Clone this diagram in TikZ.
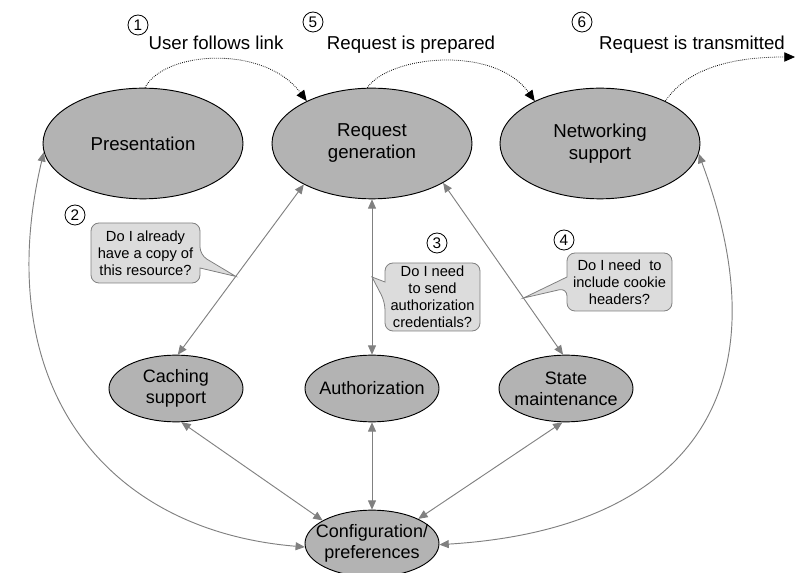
\documentclass[tikz,border=0pt]{standalone}
\usepackage{fontspec}
\setmainfont{Liberation Sans}
\usetikzlibrary{arrows.meta,shapes.geometric}
\definecolor{stagefill}{HTML}{B3B3B3}
\definecolor{notefill}{HTML}{DCDCDC}
\definecolor{linkgray}{HTML}{808080}
\begin{document}
\begin{tikzpicture}[x=0.75pt,y=-0.75pt,
  bigstage/.style={ellipse, draw=black, line width=0.7pt, fill=stagefill,
    minimum width=150pt, minimum height=83pt, inner sep=0pt, align=center,
    font=\fontsize{14}{16.5}\selectfont},
  smallstage/.style={bigstage, minimum width=100.5pt, minimum height=50pt, inner xsep=-9pt,
    font=\fontsize{13.5}{15.5}\selectfont},
  link/.style={draw=linkgray, line width=0.7pt,
    {Triangle[length=7pt,width=6pt]}-{Triangle[length=7pt,width=6pt]}},
  flow/.style={draw=black, line width=0.6pt, dash pattern=on 0.6pt off 0.9pt,
    -{Triangle[length=8pt,width=7pt]}},
  steplabel/.style={font=\fontsize{14}{16}\selectfont, anchor=base, inner sep=0pt},
  stepnum/.style={circle, draw=black, line width=0.6pt, minimum size=15pt, inner sep=0pt,
    font=\fontsize{11.5}{12}\selectfont},
  notetext/.style={align=center, font=\fontsize{11}{12.75}\selectfont, inner sep=0pt},
  notebox/.style={draw=linkgray, fill=notefill, line width=0.6pt}
]
\useasboundingbox (0,0) rectangle (796,573);

% stages of a request
\node[bigstage] (pres) at (143,143.5) {Presentation};
\node[bigstage] (req) at (372,143.5) {Request\\generation};
\node[bigstage] (net) at (600,143.5) {Networking\\support};
\node[smallstage] (cach) at (176,388.5) {Caching\\support};
\node[smallstage] (auth) at (372,388.5) {Authorization};
\node[smallstage] (state) at (566,388.5) {State\\maintenance};
\node[smallstage] (conf) at (372,543.5) {Configuration/\\preferences};

% two-way links between the modules
\draw[link] (cach.87) -- (req.211);
\draw[link] (auth.90) -- (req.270);
\draw[link] (state.95) -- (req.331);
\draw[link] (cach.279) -- (conf.155);
\draw[link] (auth.270) -- (conf.90);
\draw[link] (state.264) -- (conf.28);
\draw[link] (pres.185) .. controls (-10,380) and (100,530) .. (conf.183);
\draw[link] (net.354) .. controls (790,400) and (680,530) .. (conf.359);

% the path a request follows
\coordinate (out) at (795,57);
\draw[flow] (pres.88) .. controls (165,50) and (265,45) .. (req.147);
\draw[flow] (req.95) .. controls (390,55) and (495,45) .. (net.147);
\draw[flow] (net.33) .. controls (690,65) and (740,57) .. (out);

\node[steplabel] (l1) at (216,50) {User follows link};
\node[steplabel] (l5) at (411,50) {Request is prepared};
\node[steplabel] (l6) at (692,50) {Request is transmitted};

\node[stepnum] (n1) at (138,25) {1};
\node[stepnum] (n5) at (313,22) {5};
\node[stepnum] (n6) at (582,22) {6};
\node[stepnum] (n2) at (75,215) {2};
\node[stepnum] (n3) at (437,243) {3};
\node[stepnum] (n4) at (564,240) {4};

% callouts pointing at the links
\path (cach.87) -- (req.211) coordinate[pos=0.46] (p2);
\path (auth.90) -- (req.270) coordinate[pos=0.5] (p3);
\path (state.95) -- (req.331) coordinate[pos=0.33] (p4);

\draw[notebox, rounded corners=6pt] (145,223) -- (200,223) -- (200,255)
  [sharp corners] -- (p2) -- (200,268) [rounded corners=6pt]
  -- (200,283) -- (91,283) -- (91,223) -- cycle;
\draw[notebox, rounded corners=6pt] (432,263) -- (480,263) -- (480,331)
  -- (385,331) -- (385,302) [sharp corners] -- (p3) -- (385,282)
  [rounded corners=6pt] -- (385,263) -- cycle;
\draw[notebox, rounded corners=6pt] (620,253) -- (672,253) -- (672,311)
  -- (567,311) -- (567,288) [sharp corners] -- (p4) -- (567,277)
  [rounded corners=6pt] -- (567,253) -- cycle;

\node[notetext] (c2) at (145.5,253) {Do I already\\have a copy of\\this resource?};
\node[notetext] (c3) at (432.5,297) {Do I need\\to send\\authorization\\credentials?};
\node[notetext] (c4) at (619.5,282) {Do I need\ \ to\\include cookie\\headers?};
\end{tikzpicture}
\end{document}
